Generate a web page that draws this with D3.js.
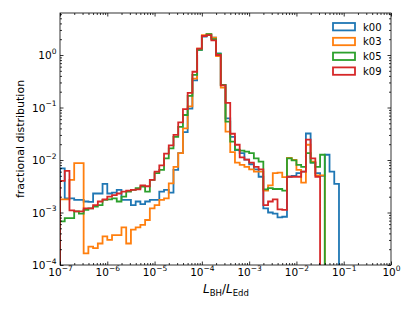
<!DOCTYPE html>
<html><head><meta charset="utf-8">
<script src="https://cdn.jsdelivr.net/npm/d3@7"></script>
<style>
body{margin:0;background:#fff}
svg{display:block}
text{font-family:"DejaVu Sans",sans-serif;fill:#000}
</style>
</head><body>
<svg id="c" width="415" height="312"></svg>
<script>
// ---- data ----
// bin edges: log10(L_BH/L_Edd) from -7 to 0, 10 bins per decade
const binEdgeExponents = d3.range(0, 71).map(i => -7 + i / 10);
const seriesNames = ["k00", "k03", "k05", "k09"];
const seriesColors = ["#1f77b4", "#ff7f0e", "#2ca02c", "#d62728"];

const k00 = [6.9e-3,1.86e-3,1.86e-3,1.74e-3,1.74e-3,1.62e-3,1.6e-3,2.3e-3,2.3e-3,3.5e-3,
  2.3e-3,2.4e-3,2.7e-3,1.74e-3,1.74e-3,1.38e-3,1.62e-3,1.45e-3,1.62e-3,1.74e-3,
  1.74e-3,2.5e-3,2.7e-3,2.4e-3,6.5e-3,1.35e-2,3.4e-2,9.5e-2,0.33,1.26,
  2.24,2.45,2.14,1.07,0.27,0.062,0.0275,0.0155,0.0135,0.0102,
  8.3e-3,6.6e-3,4.8e-3,1.2e-3,1.0e-3,9.5e-4,8.1e-4,8.3e-4,4.8e-3,5.0e-3,
  5.6e-3,6.0e-3,0.032,8.9e-3,5.6e-3,5.0e-3,0.0126,6.0e-3,3.5e-3];
const k03 = [1.78e-3,1.78e-3,4.2e-3,8.7e-3,8.7e-3,1.66e-4,2.24e-4,2.1e-4,2.57e-4,3.5e-4,
  3.0e-4,3.7e-4,3.7e-4,5.2e-4,2.57e-4,4.7e-4,5.2e-4,5.8e-4,7.2e-4,1.2e-3,
  1.38e-3,1.74e-3,1.86e-3,3.6e-3,7.4e-3,1.35e-2,0.040,0.105,0.355,1.32,
  2.4,2.5,2.14,0.95,0.24,0.0347,0.0141,8.9e-3,8.1e-3,7.4e-3,
  6.6e-3,6.0e-3,6.0e-3,2.6e-3,3.3e-3,5.6e-3,5.75e-3,4.7e-3,0.011,0.010,
  6.5e-3,3.7e-3,0.0195,9.3e-3,5.1e-3,5.1e-3];
const k05 = [6.8e-4,7.8e-4,7.8e-4,1.05e-3,9.5e-4,1.12e-3,1.2e-3,1.29e-3,1.38e-3,1.74e-3,
  1.78e-3,1.86e-3,1.62e-3,2.0e-3,2.5e-3,2.7e-3,2.9e-3,3.1e-3,2.5e-3,4.2e-3,
  5.6e-3,6.5e-3,0.0107,0.0166,0.0275,0.0427,0.072,0.166,0.417,1.26,
  2.3,2.5,2.0,1.05,0.27,0.054,0.0224,0.0158,0.0151,0.0145,
  0.0135,0.0107,9.3e-3,2.75e-3,2.9e-3,2.8e-3,2.8e-3,2.6e-3,0.0107,9.8e-3,
  8.1e-3,7.4e-3,0.0135,8.9e-3,7.4e-3,0.0126];
const k09 = [4.0e-3,6.2e-3,1.1e-3,1.05e-3,1.05e-3,1.2e-3,1.2e-3,1.38e-3,1.62e-3,1.78e-3,
  2.0e-3,2.14e-3,2.3e-3,2.5e-3,2.6e-3,2.7e-3,2.75e-3,3.3e-3,3.16e-3,4.2e-3,
  6.0e-3,7.9e-3,0.0132,0.019,0.030,0.052,0.093,0.19,0.48,1.32,
  2.3,2.4,1.9,1.0,0.263,0.123,0.0316,0.0195,0.0112,0.0102,
  8.9e-3,7.4e-3,6.6e-3,1.38e-3,1.62e-3,1.78e-3,1.15e-3,1.12e-3,4.8e-3,4.8e-3,
  4.8e-3,6.0e-3,0.0245,0.0107,4.8e-3];
const seriesValues = [k00, k03, k05, k09];

const xTickExponents = [-7, -6, -5, -4, -3, -2, -1, 0];
const yTickExponents = [-4, -3, -2, -1, 0];
const xDomain = [1e-7, 1];
const yDomain = [1e-4, Math.pow(10, 0.8)];

// ---- layout ----
const W = 415, H = 312;
const L = 60, R = 391, T = 13, B = 265;
const svg = d3.select("#c");
const x = d3.scaleLog().domain(xDomain).range([L, R]);
const y = d3.scaleLog().domain(yDomain).range([B, T]);

const minorVals = (lo, hi) => {
  const out = [];
  for (let e = lo; e < hi; e++) for (let m = 2; m <= 9; m++) out.push(m * Math.pow(10, e));
  return out;
};
const xMinor = minorVals(-7, 0);
const yMinor = minorVals(-4, 1).filter(v => v <= yDomain[1]);

svg.append("defs").append("clipPath").attr("id", "clip")
  .append("rect").attr("x", L).attr("y", T).attr("width", R - L).attr("height", B - T);

// ---- histograms ----
const floorVal = 1e-6;
const line = d3.line().x(d => x(d[0])).y(d => y(d[1]));
const edges = binEdgeExponents.map(e => Math.pow(10, e));
seriesValues.forEach((vals, si) => {
  const pts = [[edges[0], floorVal]];
  for (let i = 0; i < edges.length - 1; i++) {
    const v = i < vals.length && vals[i] > 0 ? vals[i] : floorVal;
    pts.push([edges[i], v], [edges[i + 1], v]);
  }
  pts.push([edges[edges.length - 1], floorVal]);
  svg.append("path").attr("clip-path", "url(#clip)")
    .attr("d", line(pts)).attr("fill", "none")
    .attr("stroke", seriesColors[si]).attr("stroke-width", 1.8)
    .attr("stroke-linejoin", "miter");
});

// ---- axes ----
function styleAxis(g) {
  g.select(".domain").remove();
  g.selectAll("line").attr("stroke", "#000").attr("stroke-width", 0.8);
  g.selectAll("text").remove();
}
const fmtNone = () => "";
svg.append("g").attr("transform", `translate(0,${B})`)
  .call(d3.axisBottom(x).tickValues(xMinor).tickSize(-2).tickSizeOuter(0).tickFormat(fmtNone)).call(styleAxis);
const xMajG = svg.append("g").attr("transform", `translate(0,${B})`)
  .call(d3.axisBottom(x).tickValues(xTickExponents.map(e => Math.pow(10, e))).tickSize(-3.5).tickSizeOuter(0).tickFormat(fmtNone)).call(styleAxis);
svg.append("g").attr("transform", `translate(0,${T})`)
  .call(d3.axisTop(x).tickValues(xMinor).tickSize(-2).tickSizeOuter(0).tickFormat(fmtNone)).call(styleAxis);
svg.append("g").attr("transform", `translate(0,${T})`)
  .call(d3.axisTop(x).tickValues(xTickExponents.map(e => Math.pow(10, e))).tickSize(-3.5).tickSizeOuter(0).tickFormat(fmtNone)).call(styleAxis);
svg.append("g").attr("transform", `translate(${L},0)`)
  .call(d3.axisLeft(y).tickValues(yMinor).tickSize(-2).tickSizeOuter(0).tickFormat(fmtNone)).call(styleAxis);
const yMajG = svg.append("g").attr("transform", `translate(${L},0)`)
  .call(d3.axisLeft(y).tickValues(yTickExponents.map(e => Math.pow(10, e))).tickSize(-3.5).tickSizeOuter(0).tickFormat(fmtNone)).call(styleAxis);
svg.append("g").attr("transform", `translate(${R},0)`)
  .call(d3.axisRight(y).tickValues(yMinor).tickSize(-2).tickSizeOuter(0).tickFormat(fmtNone)).call(styleAxis);
svg.append("g").attr("transform", `translate(${R},0)`)
  .call(d3.axisRight(y).tickValues(yTickExponents.map(e => Math.pow(10, e))).tickSize(-3.5).tickSizeOuter(0).tickFormat(fmtNone)).call(styleAxis);

function powLabel(sel, e) {
  sel.append("tspan").text("10");
  sel.append("tspan").attr("font-size", "7.5px").attr("dy", -5.6).text(e < 0 ? "\u2212" + (-e) : String(e));
}
xMajG.selectAll(".tick").each(function(d) {
  const e = Math.round(Math.log10(d));
  const t = d3.select(this).append("text").attr("x", 0).attr("y", 11.3)
    .attr("text-anchor", "middle").attr("font-size", "10.5px");
  powLabel(t, e);
});
yMajG.selectAll(".tick").each(function(d) {
  const e = Math.round(Math.log10(d));
  const t = d3.select(this).append("text").attr("x", -3.5).attr("y", 3.8)
    .attr("text-anchor", "end").attr("font-size", "10.5px");
  powLabel(t, e);
});

// frame
svg.append("rect").attr("x", L).attr("y", T).attr("width", R - L).attr("height", B - T)
  .attr("fill", "none").attr("stroke", "#000").attr("stroke-width", 0.8);

// axis labels
const xl = svg.append("text").attr("x", 226).attr("y", 293)
  .attr("text-anchor", "middle").attr("font-size", "12px");
xl.append("tspan").attr("font-style", "italic").text("L");
xl.append("tspan").attr("font-size", "8.5px").attr("dy", 2.5).text("BH");
xl.append("tspan").attr("dy", -2.5).text("/");
xl.append("tspan").attr("font-style", "italic").text("L");
xl.append("tspan").attr("font-size", "8.5px").attr("dy", 2.5).text("Edd");

svg.append("text").attr("transform", `translate(23.5,${(T + B) / 2}) rotate(-90)`)
  .attr("text-anchor", "middle").attr("font-size", "11px").text("fractional distribution");

// legend
const lg = svg.append("g").attr("transform", "translate(333,23)");
seriesNames.forEach((n, i) => {
  const g = lg.append("g").attr("transform", `translate(0,${i * 14.8})`);
  g.append("rect").attr("x", 0).attr("y", 0).attr("width", 22).attr("height", 7.4)
    .attr("fill", "none").attr("stroke", seriesColors[i]).attr("stroke-width", 1.8);
  g.append("text").attr("x", 30).attr("y", 7.6).attr("font-size", "10px").text(n);
});
</script>
</body></html>
